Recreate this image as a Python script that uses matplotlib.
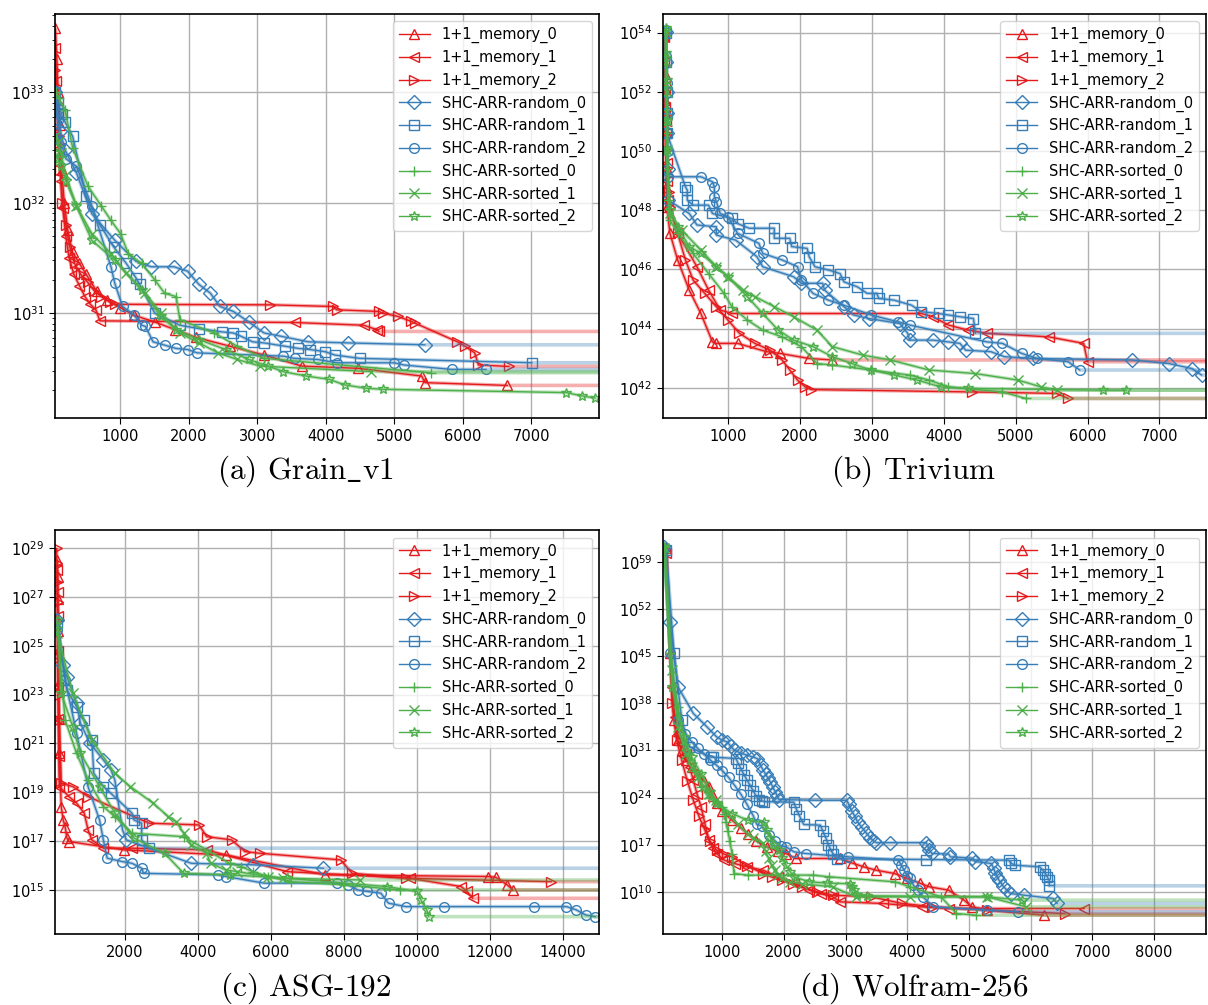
import numpy as np
import matplotlib
matplotlib.use("Agg")
import matplotlib.pyplot as plt
from matplotlib.ticker import FixedLocator, NullLocator

# labels / styles shared by all panels
LABELS = ['1+1_memory_0', '1+1_memory_1', '1+1_memory_2',
          'SHC-ARR-random_0', 'SHC-ARR-random_1', 'SHC-ARR-random_2',
          'SHC-ARR-sorted_0', 'SHC-ARR-sorted_1', 'SHC-ARR-sorted_2']
LABELS_ASG = ['1+1_memory_0', '1+1_memory_1', '1+1_memory_2',
              'SHC-ARR-random_0', 'SHC-ARR-random_1', 'SHC-ARR-random_2',
              'SHc-ARR-sorted_0', 'SHc-ARR-sorted_1', 'SHc-ARR-sorted_2']
COLORS = ['#e41a1c'] * 3 + ['#377eb8'] * 3 + ['#4daf4a'] * 3
MARKERS = ['^', '<', '>', 'D', 's', 'o', '+', 'x', '*']

# ---- (a) Grain_v1 : x = evaluations, lg = log10(fitness) ----
grain_mem0_x = [50, 70, 90, 110, 140, 180, 230, 300, 400, 500, 650, 800, 1000, 1200, 1500,
                1800, 2100, 2600, 3100, 3650, 4470, 5400, 5450, 6650]
grain_mem0_lg = [33.58, 33.3, 33.0, 32.7, 32.3, 32.0, 31.75, 31.55, 31.45, 31.35, 31.2, 31.12,
                 31.05, 30.98, 30.92, 30.85, 30.78, 30.70, 30.62, 30.52, 30.50, 30.43, 30.37, 30.345]
grain_mem1_x = [50, 65, 85, 105, 130, 160, 200, 250, 320, 400, 480, 560, 640, 700, 3545, 4553,
                4747, 4775]
grain_mem1_lg = [33.4, 33.1, 32.8, 32.5, 32.2, 31.95, 31.7, 31.5, 31.35, 31.25, 31.15, 31.08,
                 31.03, 30.93, 30.915, 30.89, 30.85, 30.834]
grain_mem2_x = [50, 70, 95, 120, 150, 200, 260, 330, 420, 520, 620, 720, 850, 920, 3180, 4105,
                4160, 4775, 4830, 5055, 5250, 5300, 5923, 6035, 6175, 6230, 6677]
grain_mem2_lg = [33.2, 32.9, 32.6, 32.3, 32.0, 31.8, 31.6, 31.45, 31.35, 31.28, 31.2, 31.15,
                 31.1, 31.08, 31.075, 31.06, 31.03, 31.015, 31.0, 30.97, 30.925, 30.91, 30.74,
                 30.70, 30.64, 30.53, 30.517]
grain_rnd0_x = [50, 80, 120, 190, 357, 581, 917, 1225, 1446, 1782, 1980, 2146, 2314, 2454, 2650,
                2874, 3098, 3349, 3741, 4329, 5447]
grain_rnd0_lg = [33.0, 32.85, 32.65, 32.48, 32.27, 31.9, 31.66, 31.47, 31.42, 31.42, 31.38,
                 31.26, 31.18, 31.06, 31.015, 30.92, 30.82, 30.79, 30.74, 30.73, 30.713]
grain_rnd1_x = [50, 90, 140, 190, 302, 498, 700, 900, 1085, 1225, 1281, 1500, 1868, 2146, 2482,
                2650, 2762, 2930, 3098, 3405, 3600, 3769, 3993, 4133, 4497, 7011]
grain_rnd1_lg = [33.0, 32.9, 32.8, 32.73, 32.6, 32.06, 31.8, 31.6, 31.45, 31.32, 31.26, 31.0,
                 30.89, 30.86, 30.83, 30.82, 30.79, 30.74, 30.73, 30.70, 30.68, 30.67, 30.65,
                 30.62, 30.59, 30.55]
grain_rnd2_x = [50, 80, 130, 200, 357, 581, 861, 917, 1030, 1197, 1309, 1365, 1476, 1644, 1812,
                1980, 2119, 3377, 3545, 3881, 4161, 5000, 5140, 5838, 6342]
grain_rnd2_lg = [32.9, 32.75, 32.55, 32.4, 32.33, 31.97, 31.42, 31.27, 31.06, 30.985, 30.89,
                 30.88, 30.74, 30.71, 30.68, 30.67, 30.64, 30.61, 30.59, 30.58, 30.55, 30.55,
                 30.53, 30.49, 30.49]
grain_srt0_x = [60, 100, 190, 300, 525, 721, 861, 1001, 1113, 1309, 1504, 1644, 1812, 1868, 2370,
                2706, 3098, 5530]
grain_srt0_lg = [33.0, 32.95, 32.84, 32.5, 32.15, 31.97, 31.84, 31.72, 31.54, 31.45, 31.30,
                 31.18, 31.15, 30.94, 30.82, 30.70, 30.59, 30.46]
grain_srt1_x = [50, 80, 132, 200, 357, 581, 861, 1085, 1365, 1588, 1868, 2146, 2426, 2706, 3041,
                4663]
grain_srt1_lg = [32.6, 32.55, 32.45, 32.25, 31.97, 31.72, 31.54, 31.36, 31.18, 31.00, 30.82,
                 30.73, 30.64, 30.58, 30.52, 30.47]
grain_srt2_x = [50, 80, 132, 200, 357, 581, 917, 1309, 1588, 1812, 2146, 2538, 2874, 3154, 3377,
                3713, 4049, 4273, 4581, 4831, 7515, 7739, 7935]
grain_srt2_lg = [32.45, 32.4, 32.33, 32.2, 31.97, 31.66, 31.48, 31.21, 30.97, 30.85, 30.76,
                 30.67, 30.58, 30.52, 30.47, 30.43, 30.40, 30.35, 30.32, 30.31, 30.28, 30.25, 30.23]

# ---- (b) Trivium ----
triv_mem0_x = [113, 116, 120, 124, 129, 134, 140, 145, 151, 194, 301, 462, 624, 785, 839, 1134,
               1538, 1726, 2129, 2452]
triv_mem0_lg = [53.98, 53.3, 52.6, 52.1, 51.72, 50.6, 49.47, 48.8, 48.12, 47.22, 46.32, 45.30,
                44.51, 43.55, 43.50, 43.50, 43.22, 43.16, 42.99, 42.94]
triv_mem1_x = [113, 117, 122, 128, 134, 140, 150, 158, 167, 301, 570, 731, 892, 1054, 3688, 3850,
               4065, 4333, 4602, 5462, 5946, 6000]
triv_mem1_lg = [53.86, 53.0, 52.2, 51.5, 51.0, 50.6, 49.6, 49.0, 48.34, 47.22, 46.09, 45.30,
                44.63, 44.51, 44.51, 44.40, 44.12, 43.95, 43.84, 43.72, 43.50, 42.88]
triv_mem2_x = [113, 118, 124, 130, 135, 140, 160, 175, 194, 301, 409, 516, 678, 839, 1000, 1161,
               1376, 1591, 1753, 1860, 1968, 2075, 2156, 4387, 5570, 5731]
triv_mem2_lg = [53.75, 52.9, 52.0, 51.2, 50.6, 50.03, 49.2, 48.6, 48.12, 47.22, 46.32, 45.64,
                45.19, 44.74, 44.29, 43.84, 43.50, 43.27, 42.94, 42.60, 42.26, 42.03, 41.94,
                41.86, 41.81, 41.64]
triv_rnd0_x = [140, 143, 146, 148, 151, 160, 167, 462, 570, 839, 839, 1107, 1403, 1484, 1914, 2022,
               2317, 2344, 2613, 2747, 2962, 3392, 3500, 3527, 3850, 4065, 4226, 4306, 4656, 4844,
               5247, 6618, 7129, 7452, 7586]
triv_rnd0_lg = [54.03, 53.0, 52.0, 51.3, 50.6, 49.4, 48.34, 47.89, 47.50, 47.44, 47.16, 46.99,
                46.43, 46.09, 45.75, 45.53, 45.53, 45.30, 44.74, 44.46, 44.34, 44.17, 43.84,
                43.61, 43.61, 43.55, 43.50, 43.27, 43.22, 43.05, 42.99, 42.94, 42.82, 42.65, 42.43]
triv_rnd1_x = [140, 143, 146, 148, 151, 409, 435, 435, 516, 731, 785, 1054, 1134, 1296, 1645, 1645,
               1860, 1887, 2102, 2129, 2210, 2398, 2559, 2613, 2801, 2935, 3070, 3097, 3312, 3554,
               3688, 3930, 4065, 4226, 4414, 4441]
triv_rnd1_lg = [53.98, 53.0, 52.0, 51.3, 50.6, 48.79, 48.68, 48.34, 48.17, 48.17, 47.89, 47.72,
                47.55, 47.39, 47.39, 47.05, 47.05, 46.77, 46.71, 46.43, 46.09, 45.98, 45.86,
                45.58, 45.41, 45.19, 45.19, 45.02, 44.96, 44.79, 44.57, 44.51, 44.46, 44.40,
                44.34, 43.84]
triv_rnd2_x = [140, 143, 146, 151, 160, 167, 624, 785, 812, 812, 839, 892, 1000, 1134, 1430, 1484,
               1753, 1968, 2022, 2183, 2398, 2613, 2989, 3366, 3527, 4602, 4817, 5086, 5301, 5731,
               5892]
triv_rnd2_lg = [54.09, 53.2, 52.3, 51.16, 50.0, 49.13, 49.13, 48.96, 48.79, 48.46, 48.29, 47.89,
                47.78, 47.22, 46.88, 46.54, 46.32, 46.09, 45.64, 45.19, 44.96, 44.79, 44.46,
                44.23, 44.12, 43.55, 43.50, 43.16, 42.99, 42.88, 42.60]
triv_srt0_x = [140, 142, 145, 148, 151, 158, 167, 194, 301, 516, 731, 946, 1054, 1269, 1484, 1753,
               2022, 2237, 2452, 2989, 3527, 3796, 4065, 4817, 5140]
triv_srt0_lg = [54.09, 53.2, 52.2, 51.4, 50.6, 49.4, 48.34, 47.66, 47.22, 46.54, 45.86, 45.19,
                44.74, 44.29, 43.95, 43.72, 43.39, 42.82, 42.77, 42.60, 42.43, 42.26, 42.03,
                41.86, 41.64]
triv_srt1_x = [140, 144, 148, 152, 156, 194, 355, 624, 839, 1000, 1215, 1376, 1645, 1914, 2237,
               2452, 2882, 3258, 3796, 4441, 5032, 5355, 5570]
triv_srt1_lg = [54.03, 53.0, 52.0, 51.0, 50.03, 47.89, 47.33, 46.65, 46.09, 45.75, 45.30, 45.08,
                44.74, 44.40, 43.95, 43.39, 43.10, 42.94, 42.60, 42.48, 42.26, 42.03, 41.92]
triv_srt2_x = [140, 143, 146, 149, 151, 194, 301, 462, 624, 839, 1000, 1269, 1484, 1699, 1914,
               2183, 2452, 2720, 2989, 3312, 3634, 3957, 4333, 6215, 6538]
triv_srt2_lg = [54.15, 53.3, 52.4, 51.0, 50.03, 48.0, 47.44, 46.77, 46.54, 46.09, 45.75, 45.08,
                44.51, 43.95, 43.61, 43.39, 43.05, 42.82, 42.60, 42.43, 42.26, 42.03, 41.98,
                41.92, 41.92]

# ---- (c) ASG-192 ----
asg_mem0_x = [154, 158, 162, 166, 170, 180, 190, 207, 259, 312, 364, 416, 469, 1990, 4768, 7494,
              11951, 12161, 12476, 12633]
asg_mem0_lg = [28.50, 27.8, 26.9, 25.6, 24.69, 23.4, 22.0, 20.60, 18.42, 17.87, 17.60, 17.13,
               16.99, 16.65, 16.44, 15.63, 15.56, 15.53, 15.22, 15.01]
asg_mem1_x = [154, 158, 162, 166, 170, 180, 190, 207, 469, 679, 889, 993, 1098, 1413, 2199, 4244,
              6446, 9801, 11217, 11374, 11532]
asg_mem1_lg = [28.09, 27.2, 26.2, 24.8, 23.32, 22.0, 20.5, 19.24, 18.83, 18.56, 18.15, 17.47,
               17.06, 16.72, 16.72, 16.65, 15.76, 15.49, 15.15, 14.95, 14.67]
asg_mem2_x = [134, 140, 150, 160, 175, 185, 195, 207, 259, 574, 993, 2671, 4034, 4244, 4925, 5292,
              5712, 7914, 8229, 9697, 13682]
asg_mem2_lg = [28.98, 28.4, 27.6, 26.8, 26.05, 24.5, 23.0, 21.96, 19.37, 19.24, 18.83, 17.74,
               17.67, 17.19, 17.06, 16.58, 16.51, 16.24, 15.69, 15.49, 15.35]
asg_rnd0_x = [154, 312, 416, 679, 784, 1046, 1413, 1622, 1727, 1937, 2042, 3824, 5502, 7442]
asg_rnd0_lg = [26.05, 24.21, 23.73, 22.64, 21.83, 21.01, 20.33, 19.92, 19.51, 17.47, 17.06, 16.10,
               16.04, 15.90]
asg_rnd1_x = [154, 416, 679, 889, 1098, 1150, 1413, 1622, 2199, 2252, 2461, 2461, 2671]
asg_rnd1_lg = [25.91, 23.19, 22.51, 21.96, 21.14, 19.78, 19.24, 18.96, 18.15, 17.87, 17.74, 17.06,
               16.72]
asg_rnd2_x = [154, 364, 679, 993, 1308, 1413, 1517, 1937, 2199, 2461, 2514, 4558, 4768, 5817, 7809,
              8124, 8386, 8648, 9015, 9225, 9697, 10745, 13210, 14101, 14364, 14626, 14888]
asg_rnd2_lg = [25.64, 23.60, 21.42, 19.24, 17.87, 17.06, 16.31, 16.17, 16.10, 15.90, 15.69, 15.63,
               15.56, 15.29, 15.29, 15.22, 15.01, 14.95, 14.88, 14.47, 14.33, 14.33, 14.33, 14.33,
               14.20, 13.99, 13.92]
asg_srt0_x = [154, 364, 679, 993, 1413, 1727, 2199, 3615, 4873, 5187, 5502, 5921, 6551, 8019, 9539]
asg_srt0_lg = [25.78, 21.96, 20.60, 19.51, 18.42, 18.01, 17.33, 17.19, 16.10, 15.97, 15.76, 15.56,
               15.35, 15.22, 15.01]
asg_srt1_x = [154, 574, 1098, 1727, 2147, 2776, 3195, 3405, 3615, 3824, 4244, 4349, 4768, 5083,
              5921, 6341, 8438]
asg_srt1_lg = [25.50, 23.05, 21.14, 19.78, 19.24, 18.56, 18.01, 17.81, 17.33, 16.85, 16.51, 16.10,
               15.83, 15.76, 15.56, 15.49, 15.42]
asg_srt2_x = [154, 259, 574, 784, 1308, 1727, 2252, 3090, 3615, 4873, 6446, 9172, 10011, 10116,
              10273, 10326]
asg_srt2_lg = [26.05, 23.05, 21.69, 20.60, 19.24, 18.15, 17.13, 16.51, 15.69, 15.63, 15.49, 15.15,
               14.95, 14.60, 14.20, 13.92]

# ---- (d) Wolfram-256 ----
wolf_mem0_x = [90, 153, 215, 278, 340, 404, 500, 592, 700, 780, 850, 906, 1000, 1157, 1300, 1408,
               1550, 1722, 1900, 2036, 2193, 2915, 3100, 3291, 3500, 3794, 4000, 4200, 4358, 4672,
               4923, 5049, 5300, 6211]
wolf_mem0_lg = [60.99, 45.40, 35.50, 32.52, 31.0, 29.55, 28.5, 27.57, 26.5, 25.59, 24.3, 23.12,
                22.0, 20.64, 19.5, 18.66, 17.6, 16.68, 16.0, 15.69, 14.95, 14.95, 14.3, 13.71,
                13.2, 12.72, 12.0, 11.3, 10.74, 10.25, 8.76, 7.77, 7.28, 6.53]
wolf_mem1_x = [90, 184, 230, 278, 340, 404, 470, 529, 590, 655, 720, 780, 850, 906, 1031, 1200,
               1400, 1660, 1900, 2161, 2413, 2600, 2789, 2915, 3605, 4233, 4672, 6870]
wolf_mem1_lg = [60.25, 40.45, 36.0, 33.51, 32.0, 30.54, 28.5, 26.58, 24.5, 22.62, 20.0, 17.67,
                16.5, 15.69, 14.70, 14.2, 13.7, 13.22, 12.2, 11.24, 10.25, 9.7, 9.26, 8.51, 8.27,
                7.77, 7.52, 7.52]
wolf_mem2_x = [90, 184, 260, 341, 430, 529, 620, 717, 800, 906, 1030, 1157, 1400, 1660, 1800, 1973,
               2150, 2287, 2538, 2789, 3417, 3919, 4421, 5300, 6556]
wolf_mem2_lg = [60.74, 37.97, 32.5, 29.55, 26.5, 23.61, 21.2, 19.16, 17.5, 16.19, 15.6, 15.20,
                13.9, 12.72, 12.2, 11.73, 11.2, 10.74, 10.0, 9.50, 9.26, 8.27, 7.77, 7.28, 6.78]
wolf_rnd0_x = [58, 150, 278, 529, 750, 906, 1000, 1081, 1135, 1200, 1300, 1400, 1500, 1565, 1619,
               1660, 1700, 1740, 1781, 1820, 1862, 1890, 1916, 2500, 3020, 3050, 3100, 3150, 3200,
               3260, 3330, 3400, 3460, 3500, 3720, 4310, 4330, 4360, 4400, 4672, 4700, 5049, 5100,
               5363, 5400, 5430, 5460, 5488, 5560, 5620, 5677, 5897, 6368, 6431]
wolf_rnd0_lg = [61.24, 50.0, 40.45, 36.49, 34.5, 33.02, 32.5, 32.26, 31.6, 31.0, 30.6, 30.3, 30.0,
                29.8, 28.8, 28.1, 27.5, 26.9, 26.3, 25.5, 24.8, 24.2, 23.7, 23.6, 23.6, 23.0, 22.0,
                21.2, 20.3, 19.6, 18.8, 18.0, 17.5, 17.3, 17.3, 17.3, 16.8, 16.2, 15.7, 15.6, 15.2,
                15.0, 14.5, 14.21, 13.5, 12.8, 12.2, 11.73, 10.8, 10.2, 9.75, 9.50, 9.01, 8.27]
wolf_rnd1_x = [90, 215, 341, 466, 810, 843, 1220, 1250, 1300, 1350, 1400, 1450, 1500, 1550, 1600,
               1650, 1680, 2160, 2200, 2250, 2320, 2590, 2630, 2680, 2720, 2760, 2800, 2860, 4296,
               5645, 5680, 5740, 6148, 6200, 6242, 6270, 6305, 6305]
wolf_rnd1_lg = [60.74, 45.40, 35.50, 31.53, 30.0, 30.0, 29.8, 29.2, 28.3, 27.4, 26.6, 25.8, 25.0,
                24.2, 23.6, 23.5, 23.4, 23.3, 22.3, 21.3, 20.0, 19.9, 19.0, 18.0, 17.0, 16.2, 15.6,
                14.9, 14.8, 14.7, 14.3, 13.96, 13.71, 13.2, 12.72, 12.2, 11.73, 10.89]
wolf_rnd2_x = [58, 153, 278, 400, 500, 600, 700, 800, 906, 1000, 1100, 1200, 1300, 1400, 1500,
               1560, 1640, 1750, 1850, 1950, 2036, 2161, 2350, 3040, 3856, 3900, 3950, 4000, 4045,
               4100, 4170, 4250, 4421, 5300, 5802]
wolf_rnd2_lg = [60.99, 45.40, 35.50, 33.5, 32.3, 31.3, 30.5, 29.6, 28.8, 28.0, 27.0, 25.8, 24.5,
                23.0, 21.3, 20.0, 19.8, 18.5, 17.6, 16.8, 16.68, 15.94, 15.69, 15.20, 14.70, 14.0,
                13.2, 12.4, 12.0, 11.0, 10.25, 9.3, 7.77, 7.28, 7.03]
wolf_srt0_x = [58, 153, 278, 400, 466, 560, 655, 780, 906, 1000, 1031, 1060, 1090, 1120, 1157,
               1189, 1408, 2475, 2726, 3794, 4045, 4547, 4798, 5112]
wolf_srt0_lg = [61.24, 45.40, 37.48, 32.0, 30.54, 28.0, 25.59, 24.0, 23.12, 22.6, 21.63, 20.3,
                19.0, 17.5, 15.69, 12.72, 12.48, 12.48, 12.23, 11.49, 10.74, 9.26, 6.78, 6.53]
wolf_srt1_x = [58, 184, 278, 404, 500, 600, 700, 780, 900, 1094, 1250, 1408, 1500, 1660, 1700,
               1750, 1800, 1850, 1900, 1973, 2100, 2287, 2789, 3166, 4045, 5300, 5928]
wolf_srt1_lg = [60.99, 42.92, 34.50, 30.54, 28.5, 27.0, 25.7, 24.6, 23.6, 21.63, 20.0, 18.66,
                18.0, 17.18, 16.0, 15.0, 14.0, 13.2, 12.5, 12.0, 11.5, 11.2, 10.74, 9.26, 9.26,
                9.26, 7.77]
wolf_srt2_x = [58, 184, 372, 500, 655, 800, 906, 1157, 1408, 1670, 1722, 1780, 1840, 1911, 1970,
               2030, 2100, 2161, 2413, 2700, 3070, 3103, 3140, 3180, 3354, 5300, 5865]
wolf_srt2_lg = [61.24, 40.45, 33.02, 30.0, 27.57, 24.8, 23.12, 21.63, 20.64, 20.3, 19.16, 18.0,
                17.0, 16.19, 15.0, 14.0, 13.0, 12.2, 11.49, 11.3, 11.2, 10.74, 10.2, 9.5, 9.4,
                9.26, 8.76]


def draw_panel(ax, series, labels, xlim, ylim_exp, xticks, yexps, minor):
    for (x, lg), lab, col, mk in zip(series, labels, COLORS, MARKERS):
        y = 10.0 ** np.array(lg)
        # pale trace continued to the end of the run
        ax.plot(list(x) + [xlim[1]], list(y) + [y[-1]], color=col, lw=2.6, alpha=0.35,
                solid_capstyle='butt')
        ax.plot(x, y, color=col, lw=1.0, marker=mk, ms=7.5 if mk == 'D' else 7, mfc='none',
                mew=1.0, label=lab)
    ax.set_yscale('log')
    ax.set_xlim(xlim)
    ax.set_ylim(10.0 ** ylim_exp[0], 10.0 ** ylim_exp[1])
    ax.set_xticks(xticks)
    ax.yaxis.set_major_locator(FixedLocator([10.0 ** e for e in yexps]))
    if not minor:
        ax.yaxis.set_minor_locator(NullLocator())
    ax.grid(True, which='major', color='#b0b0b0', lw=1.0)
    ax.tick_params(labelsize=10.5, length=4.5)
    for sp in ax.spines.values():
        sp.set_linewidth(1.2)
    ax.legend(loc='upper right', fontsize=10.5, labelspacing=0.45, handlelength=2.15,
              handletextpad=0.8, borderaxespad=0.5, framealpha=0.8)


fig = plt.figure(figsize=(12.08, 10.05), dpi=100)
ax_a = fig.add_axes([0.0459, 0.5841, 0.4499, 0.402])
ax_b = fig.add_axes([0.5490, 0.5841, 0.4495, 0.402])
ax_c = fig.add_axes([0.0459, 0.0704, 0.4499, 0.402])
ax_d = fig.add_axes([0.5490, 0.0704, 0.4495, 0.402])

draw_panel(ax_a, [(grain_mem0_x, grain_mem0_lg), (grain_mem1_x, grain_mem1_lg),
                  (grain_mem2_x, grain_mem2_lg), (grain_rnd0_x, grain_rnd0_lg),
                  (grain_rnd1_x, grain_rnd1_lg), (grain_rnd2_x, grain_rnd2_lg),
                  (grain_srt0_x, grain_srt0_lg), (grain_srt1_x, grain_srt1_lg),
                  (grain_srt2_x, grain_srt2_lg)],
           LABELS, (50, 7990), (30.05, 33.71), range(1000, 8000, 1000), [31, 32, 33], True)
draw_panel(ax_b, [(triv_mem0_x, triv_mem0_lg), (triv_mem1_x, triv_mem1_lg),
                  (triv_mem2_x, triv_mem2_lg), (triv_rnd0_x, triv_rnd0_lg),
                  (triv_rnd1_x, triv_rnd1_lg), (triv_rnd2_x, triv_rnd2_lg),
                  (triv_srt0_x, triv_srt0_lg), (triv_srt1_x, triv_srt1_lg),
                  (triv_srt2_x, triv_srt2_lg)],
           LABELS, (100, 7650), (40.98, 54.63), range(1000, 8000, 1000),
           [42, 44, 46, 48, 50, 52, 54], False)
draw_panel(ax_c, [(asg_mem0_x, asg_mem0_lg), (asg_mem1_x, asg_mem1_lg),
                  (asg_mem2_x, asg_mem2_lg), (asg_rnd0_x, asg_rnd0_lg),
                  (asg_rnd1_x, asg_rnd1_lg), (asg_rnd2_x, asg_rnd2_lg),
                  (asg_srt0_x, asg_srt0_lg), (asg_srt1_x, asg_srt1_lg),
                  (asg_srt2_x, asg_srt2_lg)],
           LABELS_ASG, (100, 14990), (13.2, 29.72), range(2000, 16000, 2000),
           [15, 17, 19, 21, 23, 25, 27, 29], False)
draw_panel(ax_d, [(wolf_mem0_x, wolf_mem0_lg), (wolf_mem1_x, wolf_mem1_lg),
                  (wolf_mem2_x, wolf_mem2_lg), (wolf_rnd0_x, wolf_rnd0_lg),
                  (wolf_rnd1_x, wolf_rnd1_lg), (wolf_rnd2_x, wolf_rnd2_lg),
                  (wolf_srt0_x, wolf_srt0_lg), (wolf_srt1_x, wolf_srt1_lg),
                  (wolf_srt2_x, wolf_srt2_lg)],
           LABELS, (40, 8850), (3.7, 63.7), range(1000, 9000, 1000),
           [10, 17, 24, 31, 38, 45, 52, 59], False)

# sub-captions
cap = dict(fontsize=22.5, ha='center', va='center', math_fontfamily='cm')
fig.text(0.2527, 0.531, r'$\text{(a) Grain}\_\text{v1}$', **cap)
fig.text(0.7566, 0.531, r'$\text{(b) Trivium}$', **cap)
fig.text(0.2534, 0.017, r'$\text{(c) ASG-192}$', **cap)
fig.text(0.7567, 0.017, r'$\text{(d) Wolfram-256}$', **cap)

fig.savefig('out.png', dpi=100)
